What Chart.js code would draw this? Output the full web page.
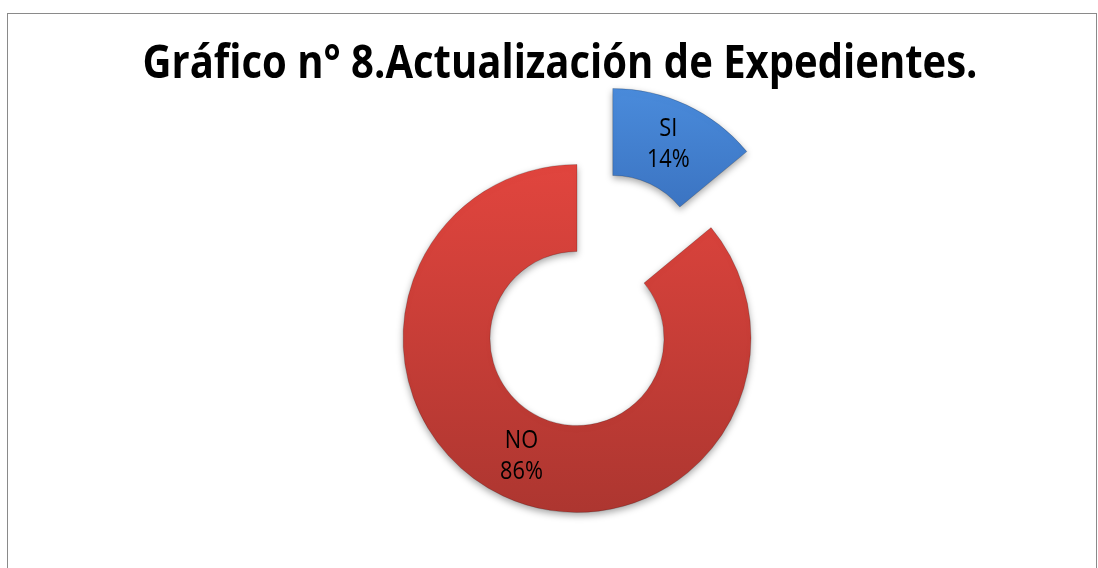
<!DOCTYPE html>
<html>
<head>
<meta charset="utf-8">
<script src="https://cdn.jsdelivr.net/npm/chart.js@4.4.1/dist/chart.umd.min.js"></script>
<style>
    html, body { margin: 0; padding: 0; background: #fff; overflow: hidden; }
    #frame { position: absolute; left: 7px; top: 13px; width: 1088px; height: 620px; border: 1px solid #8a8a8a; }
    #wrap { position: absolute; left: 0; top: 0; width: 1098px; height: 568px; }
    /* the original font is a narrow one, so squeeze Open Sans a little */
    #title { position: absolute; left: 0; top: 37px; width: 1120px; text-align: center;
             font: bold 46px "Open Sans", sans-serif; line-height: 46px; color: #000;
             transform: scaleX(0.87); transform-origin: 560px 0; z-index: 2; white-space: nowrap; }
</style>
</head>
<body>
<div id="frame"></div>
<div id="wrap">
    <div id="title">Gráfico n° 8.Actualización de Expedientes.</div>
    <canvas id="chart"></canvas>
</div>
<script>
// values
const categories = ['SI', 'NO'];
const values = [14, 86];
const sliceColors = [['#4a8bdb', '#3469b6'], ['#e1453e', '#ad3630']];
const explodeIndex = 0; // the SI slice is pulled out

const RADIUS = 174;   // outer radius, px
const EXPLODE = 84;   // how far the SI slice is pulled out, px

// vertical gradient per slice, a rough stand-in for the bevel look
function sliceFill(ctx) {
    const area = ctx.chart.chartArea;
    const [top, bottom] = sliceColors[ctx.dataIndex];
    if (!area) return top;
    const cy = (area.top + area.bottom) / 2;
    let y0 = cy - RADIUS, y1 = cy + RADIUS;
    if (ctx.dataIndex === explodeIndex) {
        y0 = cy - RADIUS - EXPLODE * 0.9;
        y1 = cy - EXPLODE * 0.9;
    }
    const g = ctx.chart.ctx.createLinearGradient(0, y0, 0, y1);
    g.addColorStop(0, top);
    g.addColorStop(1, bottom);
    return g;
}

// === PLUGINS ===

const explodePlugin = {
    id: 'explode',
    afterDatasetsUpdate(chart) {
        const arc = chart.getDatasetMeta(0).data[explodeIndex];
        if (!arc) return;
        const mid = (arc.startAngle + arc.endAngle) / 2;
        arc.x += Math.cos(mid) * EXPLODE;
        arc.y += Math.sin(mid) * EXPLODE;
    }
};

const shadowPlugin = {
    id: 'softShadow',
    beforeDatasetsDraw(chart) {
        const c = chart.ctx;
        c.save();
        c.shadowColor = 'rgba(0,0,0,0.35)';
        c.shadowBlur = 7;
        c.shadowOffsetY = 3;
    },
    afterDatasetsDraw(chart) {
        chart.ctx.restore();
    }
};

// category + percent in the middle of each slice
const sliceLabels = {
    id: 'sliceLabels',
    afterDatasetsDraw(chart) {
        const c = chart.ctx;
        const total = values.reduce((a, b) => a + b, 0);
        const line = (text, x, y) => {
            c.save();
            c.translate(x, y);
            c.scale(0.87, 1);
            c.fillText(text, 0, 0);
            c.restore();
        };
        c.save();
        c.font = '25px "Open Sans", sans-serif';
        c.fillStyle = '#000';
        c.textAlign = 'center';
        c.textBaseline = 'middle';
        chart.getDatasetMeta(0).data.forEach((arc, i) => {
            const p = arc.tooltipPosition();
            line(categories[i], p.x, p.y - 16);
            line(Math.round(values[i] / total * 100) + '%', p.x, p.y + 15);
        });
        c.restore();
    }
};

new Chart(document.getElementById('chart'), {
    type: 'doughnut',
    data: {
        labels: categories,
        datasets: [{
            data: values,
            backgroundColor: sliceFill,
            borderColor: 'rgba(0,0,0,0.18)',
            borderWidth: 1
        }]
    },
    options: {
        responsive: true,
        maintainAspectRatio: false,
        animation: false,
        events: [],
        radius: RADIUS,
        cutout: '50%',
        layout: { padding: { left: 56, top: 109, right: 0, bottom: 0 } },
        plugins: {
            legend: { display: false },
            tooltip: { enabled: false }
        }
    },
    plugins: [explodePlugin, shadowPlugin, sliceLabels]
});
</script>
</body>
</html>
